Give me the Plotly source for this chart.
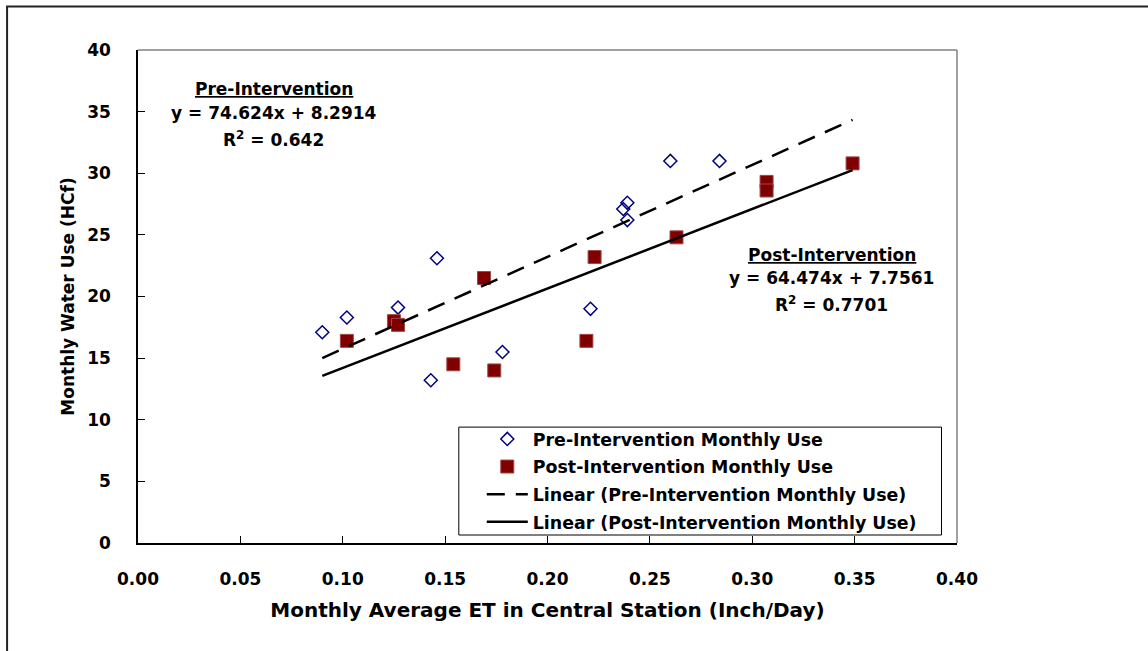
import plotly.graph_objects as go

# ---- data ----
pre_x = [0.090, 0.102, 0.127, 0.146, 0.143, 0.178, 0.221, 0.237, 0.239, 0.239, 0.260, 0.284]
pre_y = [17.1, 18.3, 19.1, 23.1, 13.2, 15.5, 19.0, 27.1, 27.6, 26.2, 31.0, 31.0]
post_x = [0.102, 0.125, 0.127, 0.169, 0.154, 0.174, 0.219, 0.223, 0.263, 0.307, 0.307, 0.349]
post_y = [16.4, 18.0, 17.7, 21.5, 14.5, 14.0, 16.4, 23.2, 24.8, 29.3, 28.6, 30.8]

pre_fit = {"slope": 74.624, "intercept": 8.2914, "r2": "0.642"}
post_fit = {"slope": 64.474, "intercept": 7.7561, "r2": "0.7701"}

series_names = [
    "Pre-Intervention Monthly Use",
    "Post-Intervention Monthly Use",
    "Linear (Pre-Intervention Monthly Use)",
    "Linear (Post-Intervention Monthly Use)",
]
x_ticks = [0.00, 0.05, 0.10, 0.15, 0.20, 0.25, 0.30, 0.35, 0.40]
y_ticks = [0, 5, 10, 15, 20, 25, 30, 35, 40]

FONT = "DejaVu Sans"
FS = 17

x_lo = min(pre_x + post_x)
x_hi = max(pre_x + post_x)
line_x = [x_lo, x_hi]

fig = go.Figure()
fig.add_trace(go.Scatter(
    x=pre_x, y=pre_y, mode="markers", name=series_names[0], legendgroup="g1",
    marker=dict(symbol="diamond-open", size=10, color="#000080",
                line=dict(width=1.5, color="#000080")),
))
fig.add_trace(go.Scatter(
    x=post_x, y=post_y, mode="markers", name=series_names[1], legendgroup="g2",
    marker=dict(symbol="square", size=13, color="#800000",
                line=dict(width=1, color="#a04848")),
))
fig.add_trace(go.Scatter(
    x=line_x, y=[pre_fit["slope"] * v + pre_fit["intercept"] for v in line_x],
    mode="lines", name=series_names[2], legendgroup="g3",
    line=dict(color="black", width=2.5, dash="18px,11px"),
))
fig.add_trace(go.Scatter(
    x=line_x, y=[post_fit["slope"] * v + post_fit["intercept"] for v in line_x],
    mode="lines", name=series_names[3], legendgroup="g4",
    line=dict(color="black", width=2.5),
))

W, H = 1148, 651
L, R, T, B = 138, 1148 - 957.5, 49.5, 651 - 543
pw, ph = W - L - R, H - T - B


def px_x(p):
    return (p - L) / pw


def px_y(p):
    return (H - B - p) / ph


axis_font = dict(family=FONT, size=FS, color="black", weight="bold")

fig.update_layout(
    width=W, height=H,
    margin=dict(l=L, r=R, t=T, b=B, pad=0),
    paper_bgcolor="white", plot_bgcolor="white",
    font=dict(family=FONT, size=FS, color="black"),
    showlegend=True,
    legend=dict(
        x=px_x(482), y=px_y(421), xanchor="left", yanchor="top",
        borderwidth=0, bgcolor="rgba(0,0,0,0)",
        font=dict(family=FONT, size=17.4, color="black", weight="bold"),
        itemwidth=41, traceorder="grouped", tracegroupgap=2,
    ),
    xaxis=dict(
        range=[0, 0.4], tickmode="array", tickvals=x_ticks,
        ticktext=[f"{v:.2f}" for v in x_ticks],
        ticks="inside", ticklen=7, tickcolor="black", tickwidth=1,
        showgrid=False, zeroline=False, showline=True,
        linecolor="black", linewidth=1.5,
        tickfont=axis_font, ticklabelstandoff=20,
        title=dict(text="Monthly Average ET in Central Station (Inch/Day)",
                   font=dict(family=FONT, size=20, color="black", weight="bold"),
                   standoff=15),
    ),
    yaxis=dict(
        range=[0, 40], tickmode="array", tickvals=y_ticks,
        ticks="inside", ticklen=7, tickcolor="black", tickwidth=1,
        showgrid=False, zeroline=False, showline=True,
        linecolor="black", linewidth=1.5,
        tickfont=axis_font, ticklabelstandoff=22,
        title=dict(text="Monthly Water Use (HCf)", font=axis_font, standoff=8),
    ),
)

# plot-area top/right border (grey) and outer chart border
fig.add_shape(type="line", xref="paper", yref="paper", x0=0, x1=1, y0=1, y1=1,
              line=dict(color="#808080", width=1.5))
fig.add_shape(type="line", xref="paper", yref="paper", x0=1, x1=1, y0=0, y1=1,
              line=dict(color="#808080", width=1.5))
fig.add_shape(type="path", xref="paper", yref="paper",
              path=f"M {px_x(7)},{px_y(700)} L {px_x(7)},{px_y(6)} L {px_x(1200)},{px_y(6)}",
              line=dict(color="#222222", width=2))
# legend frame
fig.add_shape(type="rect", xref="paper", yref="paper", layer="above",
              x0=px_x(459), x1=px_x(942), y0=px_y(535), y1=px_y(427),
              line=dict(color="black", width=1), fillcolor="white")

ann_font = dict(family=FONT, size=FS, color="black", weight="bold")


def add_block(cx, ys, title, fit):
    texts = [
        f"<u>{title}</u>",
        f"y = {fit['slope']}x + {fit['intercept']}",
        f"R<sup>2</sup> = {fit['r2']}",
    ]
    for t, yy in zip(texts, ys):
        fig.add_annotation(x=px_x(cx), y=px_y(yy), xref="paper", yref="paper",
                           text=t, showarrow=False, font=ann_font,
                           xanchor="center", yanchor="middle")


add_block(274, [89, 113, 139], "Pre-Intervention", pre_fit)
add_block(832, [255, 278, 304], "Post-Intervention", post_fit)

fig.write_html("out.html")
